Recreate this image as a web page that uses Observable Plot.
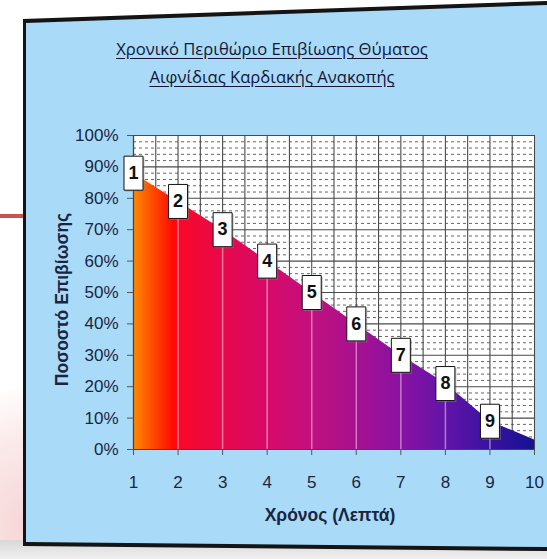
<!DOCTYPE html>
<html>
<head>
<meta charset="utf-8">
<script src="https://cdn.jsdelivr.net/npm/d3@7"></script>
<script src="https://cdn.jsdelivr.net/npm/@observablehq/plot@0.6"></script>
<style>
  html, body { margin: 0; padding: 0; background: #fff; }
  #wrap { position: relative; width: 547px; height: 559px; overflow: hidden; background: #fff; }
  .abs { position: absolute; }
  #title { position: absolute; left: 0; top: 35px; width: 544px; text-align: center;
    font-family: "Open Sans", "Noto Sans", sans-serif; font-size: 16.6px; line-height: 28px; font-weight: 500;
    color: #141436; text-decoration: underline; text-underline-offset: 3px; }
  #chart { position: absolute; left: 0; top: 0; }
</style>
</head>
<body>
<div id="wrap">
  <div class="abs" style="left:0;top:390px;width:120px;height:169px;background:radial-gradient(ellipse at 20% 80%, #f6d6d6 0%, #fbeaea 45%, rgba(255,255,255,0) 75%);"></div>
  <div class="abs" style="left:0;top:540px;width:547px;height:19px;background:linear-gradient(#d8d8d8,#f0f0f0);"></div>
  <div class="abs" style="left:0;top:214px;width:24px;height:4px;background:#c9534f;"></div>
  <div class="abs" style="left:0;top:0;width:547px;height:559px;background:#141414;clip-path:polygon(23px 19px, 547px 1px, 547px 551px, 23px 546px);"></div>
  <div class="abs" style="left:0;top:0;width:547px;height:559px;background:#a9dbf8;clip-path:polygon(26px 23px, 547px 5px, 547px 547px, 26px 542px);"></div>
  <div id="title">Χρονικό Περιθώριο Επιβίωσης Θύματος<br>Αιφνίδιας Καρδιακής Ανακοπής</div>
  <div id="chart"></div>
</div>
<script>
// ---- data ----
const minutes = [1, 2, 3, 4, 5, 6, 7, 8, 9, 10];
const survival = [88, 79, 70, 60, 50, 40, 30, 21, 9, 3];
const labelTexts = ["1", "2", "3", "4", "5", "6", "7", "8", "9"];
const yTicks = [0, 10, 20, 30, 40, 50, 60, 70, 80, 90, 100];
const xTicks = [1, 2, 3, 4, 5, 6, 7, 8, 9, 10];
const gridX = [1, 1.5, 2, 2.5, 3, 3.5, 4, 4.5, 5, 5.5, 6, 6.5, 7, 7.5, 8, 8.5, 9, 9.5, 10];
const gridYMinor = yTicks.slice(0, 10).flatMap(v => [v + 2, v + 4, v + 6, v + 8]);
const yTitle = "Ποσοστό Επιβίωσης";
const xTitle = "Χρόνος (Λεπτά)";

const data = minutes.map((x, i) => ({x, y: survival[i]}));
const labels = labelTexts.map((t, i) => ({x: minutes[i], y: survival[i], label: t}));

const boxSymbol = { draw(ctx) { ctx.rect(-9.5, -17, 19, 34); } };

const gradDefs = () => {
  const defs = d3.create("svg:defs");
  const g = defs.append("linearGradient").attr("id", "survGrad")
    .attr("x1", 0).attr("x2", 1).attr("y1", 0).attr("y2", 0);
  const stops = [
    [0, "#ff8a00"], [0.10, "#ff0a00"], [0.112, "#fa0828"], [0.222, "#e8084a"],
    [0.333, "#d80a68"], [0.444, "#c2107e"], [0.555, "#a81090"], [0.667, "#8a12a2"],
    [0.778, "#6214a8"], [0.889, "#3a12a0"], [1, "#161290"]
  ];
  stops.forEach(([o, c]) => g.append("stop").attr("offset", o).attr("stop-color", c));
  return defs.node();
};

const plot = Plot.plot({
  width: 547,
  height: 559,
  marginLeft: 133,
  marginRight: 13,
  marginTop: 135,
  marginBottom: 110,
  x: {domain: [1, 10], label: null},
  y: {domain: [0, 100], label: null},
  style: {background: "transparent", fontFamily: "'Liberation Sans', Arial, sans-serif", color: "#1a2540"},
  marks: [
    gradDefs,
    Plot.frame({fill: "white", stroke: "#bbb"}),
    Plot.ruleY(gridYMinor, {stroke: "#666", strokeWidth: 1, strokeDasharray: "3,3"}),
    Plot.ruleY(yTicks, {stroke: "#4a4a4a", strokeWidth: 1.1}),
    Plot.ruleX(gridX, {stroke: "#4a4a4a", strokeWidth: 1.1}),
    Plot.areaY(data, {x: "x", y: "y", fill: "url(#survGrad)"}),
    Plot.ruleX(labels.filter(d => d.x > 1), {x: "x", y1: 0, y2: "y", stroke: "#fff", strokeOpacity: 0.45, strokeWidth: 1.5}),
    Plot.ruleY([0], {stroke: "#444", strokeWidth: 1.2}),
    Plot.ruleX([1], {stroke: "#444", strokeWidth: 1.2}),
    Plot.axisY(yTicks, {tickFormat: d => d + "%", tickSize: 6, tickPadding: 9, fontSize: 17, label: null, stroke: "#555"}),
    Plot.axisX(xTicks, {tickSize: 6, tickPadding: 20, fontSize: 17, label: null, stroke: "#555"}),
    Plot.dot(labels, {x: "x", y: "y", dx: 1.5, dy: 1.5, symbol: boxSymbol, fill: "#888", fillOpacity: 0.5, stroke: "none"}),
    Plot.dot(labels, {x: "x", y: "y", symbol: boxSymbol, fill: "white", stroke: "#111", strokeWidth: 1}),
    Plot.text(labels, {x: "x", y: "y", text: "label", fontSize: 18, fontWeight: "bold", fill: "#111"}),
    Plot.text([yTitle], {text: d => d, frameAnchor: "left", textAnchor: "middle", dx: -71, dy: 7, rotate: -90, fontSize: 17.5, fontWeight: "bold", fill: "#1a2540"}),
    Plot.text([xTitle], {text: d => d, frameAnchor: "bottom", textAnchor: "middle", dx: -4, dy: 71, fontSize: 17.5, fontWeight: "bold", fill: "#1a2540"})
  ]
});
document.getElementById("chart").appendChild(plot);
</script>
</body>
</html>
